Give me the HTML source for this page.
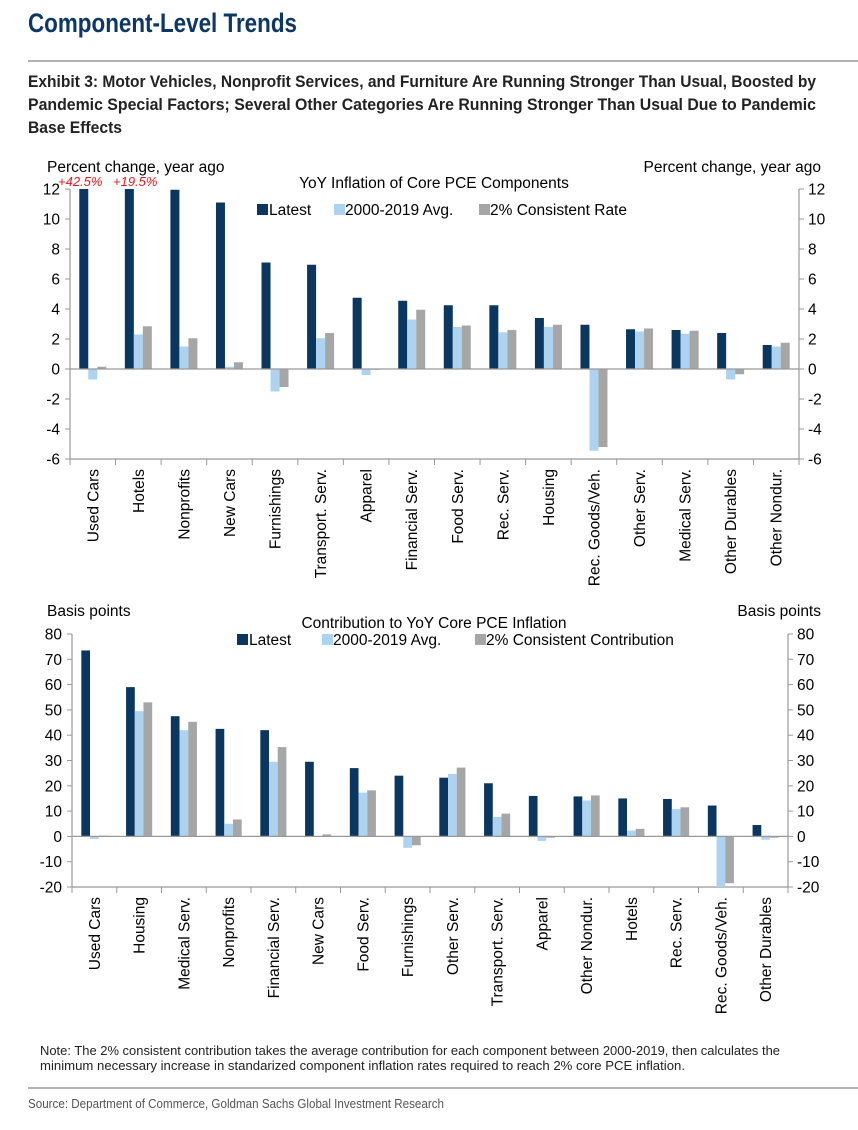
<!DOCTYPE html>
<html><head><meta charset="utf-8">
<style>
html,body{margin:0;padding:0;background:#fff;}
svg{display:block;}
.n{font-family:"Liberation Sans Narrow","Liberation Sans",sans-serif;}
.s{font-family:"Liberation Sans",sans-serif;}
</style></head>
<body>
<svg id="page" width="858" height="1130" viewBox="0 0 858 1130" xmlns="http://www.w3.org/2000/svg">
<text class="n" x="28" y="32" font-size="27" font-weight="bold" fill="#0d3766" textLength="269" lengthAdjust="spacingAndGlyphs">Component-Level Trends</text>
<line x1="28" y1="61" x2="858" y2="61" stroke="#999" stroke-width="1.5"/>
<g class="n" font-size="17" font-weight="bold" fill="#222">
<text x="28" y="87" textLength="788" lengthAdjust="spacingAndGlyphs">Exhibit 3: Motor Vehicles, Nonprofit Services, and Furniture Are Running Stronger Than Usual, Boosted by</text>
<text x="28" y="110" textLength="788" lengthAdjust="spacingAndGlyphs">Pandemic Special Factors; Several Other Categories Are Running Stronger Than Usual Due to Pandemic</text>
<text x="28" y="133" textLength="94" lengthAdjust="spacingAndGlyphs">Base Effects</text>
</g>
<g id="c1"></g>
<g id="c2"></g>
<g class="n" font-size="13" fill="#222">
<text x="40" y="1055" textLength="740" lengthAdjust="spacingAndGlyphs">Note: The 2% consistent contribution takes the average contribution for each component between 2000-2019, then calculates the</text>
<text x="40" y="1070" textLength="645" lengthAdjust="spacingAndGlyphs">minimum necessary increase in standarized component inflation rates required to reach 2% core PCE inflation.</text>
</g>
<line x1="28" y1="1088" x2="858" y2="1088" stroke="#999" stroke-width="1.5"/>
<text class="n" x="28" y="1108" font-size="13" fill="#555" textLength="416" lengthAdjust="spacingAndGlyphs">Source: Department of Commerce, Goldman Sachs Global Investment Research</text>
</svg>
<script>
const cats1 = ["Used Cars","Hotels","Nonprofits","New Cars","Furnishings","Transport. Serv.","Apparel","Financial Serv.","Food Serv.","Rec. Serv.","Housing","Rec. Goods/Veh.","Other Serv.","Medical Serv.","Other Durables","Other Nondur."];
const latest1 = [42.5,19.5,11.95,11.1,7.1,6.95,4.75,4.55,4.25,4.25,3.4,2.95,2.65,2.6,2.4,1.6];
const avg1 = [-0.7,2.3,1.5,0.15,-1.5,2.05,-0.4,3.3,2.8,2.45,2.8,-5.45,2.5,2.35,-0.7,1.5];
const rate1 = [0.15,2.85,2.05,0.45,-1.2,2.4,-0.05,3.95,2.9,2.6,2.95,-5.2,2.7,2.55,-0.35,1.75];
const ticks1 = [-6,-4,-2,0,2,4,6,8,10,12];
const cats2 = ["Used Cars","Housing","Medical Serv.","Nonprofits","Financial Serv.","New Cars","Food Serv.","Furnishings","Other Serv.","Transport. Serv.","Apparel","Other Nondur.","Hotels","Rec. Serv.","Rec. Goods/Veh.","Other Durables"];
const latest2 = [73.5,59,47.5,42.5,42,29.5,27,24,23.2,21,16,15.8,15,14.8,12.2,4.5];
const avg2 = [-1,49.5,42,5,29.5,0,17.3,-4.5,24.7,7.7,-1.8,14.2,2.3,10.8,-20,-1.3];
const cons2 = [0.3,53,45.3,6.7,35.3,0.8,18.2,-3.5,27.2,9,-0.5,16.2,3,11.5,-18.5,-0.5];
const ticks2 = [-20,-10,0,10,20,30,40,50,60,70,80];

const NS="http://www.w3.org/2000/svg";
const FS=15.5;
function mk(p,t,a){const e=document.createElementNS(NS,t);for(const k in a)e.setAttribute(k,a[k]);p.appendChild(e);return e;}
const COLS=["#0a365f","#aed3f0","#a6a6a6"];

function chart(g,o){
  const yMin=o.ticks[0],yMax=o.ticks[o.ticks.length-1];
  const y=v=>o.yT+(yMax-Math.max(yMin,Math.min(yMax,v)))/(yMax-yMin)*(o.yB-o.yT);
  const n=o.cats.length, cw=(o.xR-o.xL)/n;
  const x=i=>o.xL+i*cw;
  const bw=o.bw;
  let e=mk(g,"line",{x1:o.xL,y1:o.yT,x2:o.xL,y2:o.yB,stroke:"#999","stroke-width":1.2});
  
  
  e=mk(g,"line",{x1:o.xR,y1:o.yT,x2:o.xR,y2:o.yB,stroke:"#999","stroke-width":1.2});
  
  
  e=mk(g,"line",{x1:o.xL,y1:o.yB,x2:o.xR,y2:o.yB,stroke:"#999","stroke-width":1.2});
  
  
  o.ticks.forEach(t=>{
    mk(g,"line",{x1:o.xL-5,y1:y(t),x2:o.xL,y2:y(t),stroke:"#999"});
    mk(g,"line",{x1:o.xR,y1:y(t),x2:o.xR+5,y2:y(t),stroke:"#999"});
    let tl=mk(g,"text",{x:o.xL-10,y:y(t)+5.5,"text-anchor":"end","font-size":FS,class:"s",fill:"#000"});tl.textContent=t;
    
    
    let tr=mk(g,"text",{x:o.xR+9,y:y(t)+5.5,"font-size":FS,class:"s",fill:"#000"});tr.textContent=t;
    
    
  });
  for(let i=0;i<=n;i++)mk(g,"line",{x1:x(i),y1:o.yB,x2:x(i),y2:o.yB+6,stroke:"#999"});
  const series=[o.s1,o.s2,o.s3];
  o.cats.forEach((c,i)=>{
    const cx=x(i)+cw/2, gx=cx-bw*1.5;
    series.forEach((s,k)=>{
      const v=s[i], y0=y(0), yv=y(v);
      const b=mk(g,"rect",{x:gx+k*bw,y:Math.min(y0,yv),width:bw,height:Math.max(0.5,Math.abs(yv-y0)),fill:COLS[k]});
      
      
    });
    const lb=mk(g,"text",{transform:`translate(${cx+5.5},${o.yB+10}) rotate(-90)`,"text-anchor":"end","font-size":FS,class:"s",fill:"#000"});
    lb.textContent=c;
    
    
  });
  e=mk(g,"line",{x1:o.xL,y1:y(0),x2:o.xR,y2:y(0),stroke:"#999","stroke-width":1.2});
  
  
}
const g1=document.getElementById('c1');
chart(g1,{cats:cats1,s1:latest1,s2:avg1,s3:rate1,ticks:ticks1,xL:70,xR:799,yT:189,yB:459,bw:9,names:["latest","avg","rate"]});
const g2=document.getElementById('c2');
chart(g2,{cats:cats2,s1:latest2,s2:avg2,s3:cons2,ticks:ticks2,xL:72,xR:788,yT:634,yB:887,bw:8.7,names:["latest","avg","consistent"]});

function txt(g,x,y,s,a,name,extra){const t=mk(g,"text",Object.assign({x:x,y:y,"font-size":FS,class:"s",fill:"#000","text-anchor":a||"start"},extra||{}));t.textContent=s;return t;}
function sw(g,x,y,c,name){const r=mk(g,"rect",{x:x,y:y,width:11,height:11,fill:c});}
txt(g1,47,172,"Percent change, year ago","start","left-axis-title");
txt(g1,821,172,"Percent change, year ago","end","right-axis-title");
txt(g1,434,188,"YoY Inflation of Core PCE Components","middle","chart-title");
txt(g1,58,186,"+"+latest1[0].toFixed(1)+"%","start","used-cars-value-note",{fill:"#e8191e","font-style":"italic","font-size":13});
txt(g1,113,186,"+"+latest1[1].toFixed(1)+"%","start","hotels-value-note",{fill:"#e8191e","font-style":"italic","font-size":13});
sw(g1,257,204,COLS[0],"legend-latest-swatch");txt(g1,269,215,"Latest","start","legend-latest");
sw(g1,334,204,COLS[1],"legend-avg-swatch");txt(g1,345,215,"2000-2019 Avg.","start","legend-avg");
sw(g1,479,204,COLS[2],"legend-rate-swatch");txt(g1,490,215,"2% Consistent Rate","start","legend-rate");
txt(g2,47,616,"Basis points","start","left-axis-title");
txt(g2,821,616,"Basis points","end","right-axis-title");
txt(g2,434,628,"Contribution to YoY Core PCE Inflation","middle","chart-title");
sw(g2,237,634,COLS[0],"legend-latest-swatch");txt(g2,249,645,"Latest","start","legend-latest");
sw(g2,322,634,COLS[1],"legend-avg-swatch");txt(g2,333,645,"2000-2019 Avg.","start","legend-avg");
sw(g2,475,634,COLS[2],"legend-consistent-swatch");txt(g2,486,645,"2% Consistent Contribution","start","legend-consistent");
</script>
</body></html>
